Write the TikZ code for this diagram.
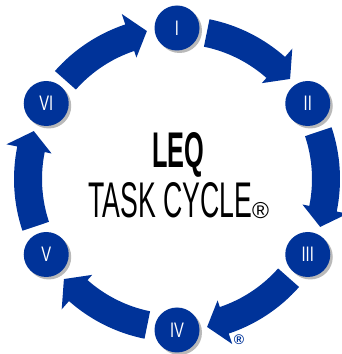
\documentclass[tikz,border=0pt]{standalone}
\usepackage{fontspec}
\setmainfont{Liberation Sans}
\usetikzlibrary{positioning,shadows,calc}

\definecolor{leqblue}{RGB}{0,51,153}
\newcommand{\cond}[2][0.7]{\scalebox{#1}[1]{#2}}

\begin{document}
\begin{tikzpicture}[
        x=1pt, y=1pt,
        every node/.style={inner sep=0pt, align=center},
        stage/.style={circle, fill=leqblue, text=white, minimum size=45pt,
            font=\fontsize{21}{21}\selectfont,
            drop shadow={shadow xshift=2.5pt, shadow yshift=-2.5pt, fill=gray!55, opacity=1}},
        band/.style={fill=leqblue}
    ]
  \useasboundingbox (0,0) rectangle (342,354);
  \coordinate (c) at (177,175);

  % Arrows (band start, tip)
  \begin{scope}[shift={(c)}]
    \foreach \s/\t in {78.5/41.5, 18.5/-18.5, -41.5/-78.5, -101.5/-138.5, -161.5/-198.5, 138.5/101.5}{
      \pgfmathsetmacro{\b}{\t+7}
      \fill[band] (\s:163) arc[start angle=\s, end angle=\b, radius=163]
        -- (\b:174) -- (\t:151) -- (\b:128) -- (\b:135)
        arc[start angle=\b, end angle=\s, radius=135] -- cycle;
    }
  \end{scope}

  % Nodes
  \node[stage] (s1) at ($(c)+(90:151)$) {\cond{I}};
  \node[stage] (s2) at ($(c)+(30:151)$) {\cond{II}};
  \node[stage] (s3) at ($(c)+(-30:151)$) {\cond{III}};
  \node[stage] (s4) at ($(c)+(-90:151)$) {\cond{IV}};
  \node[stage] (s5) at ($(c)+(-150:151)$) {\cond{V}};
  \node[stage] (s6) at ($(c)+(150:151)$) {\cond{VI}};

  % Title
  \node (leq) [anchor=base west] at (152,186) {\resizebox{52pt}{35pt}{\bfseries LEQ}};
  \node (task) [anchor=base west] at (88,136) {\resizebox{164pt}{35pt}{TASK CYCLE}};
  \node (reg) [anchor=base west, font=\fontsize{23}{23}\selectfont] at (252,135) {®};
  \node (mark) [font=\bfseries\fontsize{14}{14}\selectfont, text=leqblue] at (239,14) {®};
\end{tikzpicture}
\end{document}
